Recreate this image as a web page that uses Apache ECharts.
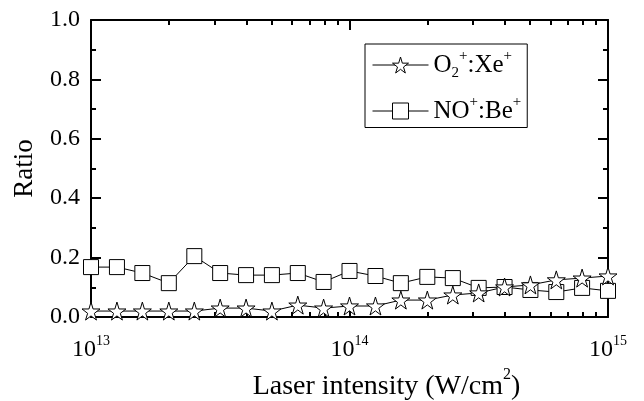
<!DOCTYPE html>
<html>
<head>
<meta charset="utf-8">
<script src="https://cdn.jsdelivr.net/npm/echarts@6/dist/echarts.min.js"></script>
<style>
  html, body { margin: 0; padding: 0; background: #fff; }
  #chart { width: 644px; height: 401px; }
</style>
</head>
<body>
<div id="chart"></div>
<script>
// laser intensity in W/cm^2, ten points per decade
var intensity = [
  1.00e13, 1.26e13, 1.58e13, 2.00e13, 2.51e13, 3.16e13, 3.98e13, 5.01e13, 6.31e13, 7.94e13,
  1.00e14, 1.26e14, 1.58e14, 2.00e14, 2.51e14, 3.16e14, 3.98e14, 5.01e14, 6.31e14, 7.94e14,
  1.00e15
]
var o2Xe = [
  0.020, 0.020, 0.020, 0.020, 0.020, 0.030, 0.030, 0.020, 0.040, 0.030,
  0.037, 0.037, 0.057, 0.057, 0.074, 0.081, 0.101, 0.108, 0.125, 0.131,
  0.138
]
var noBe = [
  0.168, 0.168, 0.148, 0.114, 0.205, 0.148, 0.141, 0.141, 0.148, 0.118,
  0.155, 0.138, 0.114, 0.135, 0.131, 0.098, 0.101, 0.091, 0.084, 0.098,
  0.088
]
var minorX = [
  2e13, 3e13, 4e13, 5e13, 6e13, 7e13, 8e13, 9e13,
  2e14, 3e14, 4e14, 5e14, 6e14, 7e14, 8e14, 9e14
]

var FONT = 'Liberation Serif'
var STAR = 'path://M50,0 L61,35 L98,35 L68,57 L79,91 L50,70 L21,91 L32,57 L2,35 L39,35 Z'

var chart = echarts.init(document.getElementById('chart'))

function xAxisDef (pos, minor) {
  return {
    type: 'log',
    logBase: 10,
    min: 1e13,
    max: 1e15,
    position: pos,
    axisLine: { show: !minor, onZero: false, lineStyle: { color: '#000', width: 2 } },
    axisTick: minor
      ? { show: true, inside: true, length: 5, customValues: minorX, lineStyle: { color: '#000', width: 2 } }
      : { show: true, inside: true, length: 10, lineStyle: { color: '#000', width: 2 } },
    axisLabel: { show: false },
    splitLine: { show: false },
    minorTick: { show: false }
  }
}

function yAxisDef (pos) {
  return {
    type: 'value',
    min: 0,
    max: 1,
    interval: 0.2,
    position: pos,
    axisLine: { show: true, lineStyle: { color: '#000', width: 2 } },
    axisTick: { show: true, inside: true, length: 10, lineStyle: { color: '#000', width: 2 } },
    minorTick: { show: true, splitNumber: 2, length: 5, lineStyle: { color: '#000', width: 2 } },
    axisLabel: { show: false },
    splitLine: { show: false }
  }
}

var xMain = xAxisDef('bottom', false)
xMain.axisLabel = {
  show: true,
  margin: 17,
  formatter: function (v) {
    return '{b|10}{e|' + Math.round(Math.log10(v)) + '}'
  },
  rich: {
    b: { fontFamily: FONT, fontSize: 24, color: '#000', lineHeight: 28, verticalAlign: 'bottom' },
    e: { fontFamily: FONT, fontSize: 14, color: '#000', lineHeight: 28, verticalAlign: 'top' }
  }
}
xMain.name = '{a|Laser intensity (W/cm}{s|2}{a|)}'
xMain.nameLocation = 'middle'
xMain.nameGap = 50
xMain.nameTextStyle = {
  padding: [0, 0, 0, 74],
  rich: {
    a: { fontFamily: FONT, fontSize: 28, color: '#000', lineHeight: 34, verticalAlign: 'bottom' },
    s: { fontFamily: FONT, fontSize: 16, color: '#000', lineHeight: 34, verticalAlign: 'top' }
  }
}

var yMain = yAxisDef('left')
yMain.axisLabel = {
  show: true,
  margin: 11,
  fontFamily: FONT,
  fontSize: 24,
  color: '#000',
  formatter: function (v) { return v.toFixed(1) }
}
yMain.name = 'Ratio'
yMain.nameLocation = 'middle'
yMain.nameGap = 53
yMain.nameTextStyle = { fontFamily: FONT, fontSize: 27, color: '#000' }

var legendNames = {
  'O2+:Xe+': '{t|O}{sub|2}{sup|+}{t|:Xe}{sup|+}',
  'NO+:Be+': '{t|NO}{sup|+}{t|:Be}{sup|+}'
}

chart.setOption({
  animation: false,
  grid: { left: 91, right: 36, top: 20, bottom: 84, outerBoundsMode: 'none' },
  legend: {
    orient: 'vertical',
    left: 365,
    top: 44,
    padding: [5, 6, 4, 7],
    itemGap: 14,
    itemWidth: 56,
    itemHeight: 20,
    borderColor: '#000',
    borderWidth: 1,
    borderRadius: 0,
    itemStyle: { color: '#fff', borderColor: '#000', borderWidth: 1 },
    lineStyle: { color: '#000', width: 1 },
    data: ['O2+:Xe+', 'NO+:Be+'],
    formatter: function (name) { return legendNames[name] },
    textStyle: {
      rich: {
        t: { fontFamily: FONT, fontSize: 25, color: '#000', lineHeight: 32, verticalAlign: 'middle' },
        sup: { fontFamily: FONT, fontSize: 15, color: '#000', lineHeight: 32, verticalAlign: 'top' },
        sub: { fontFamily: FONT, fontSize: 15, color: '#000', lineHeight: 32, verticalAlign: 'bottom' }
      }
    }
  },
  xAxis: [xMain, xAxisDef('bottom', true), xAxisDef('top', false), xAxisDef('top', true)],
  yAxis: [yMain, yAxisDef('right')],
  series: [
    {
      name: 'NO+:Be+',
      type: 'line',
      xAxisIndex: 0,
      yAxisIndex: 0,
      data: intensity.map(function (x, i) { return [x, noBe[i]] }),
      symbol: 'rect',
      symbolSize: 15,
      lineStyle: { color: '#000', width: 1 },
      itemStyle: { color: '#fff', borderColor: '#000', borderWidth: 1 }
    },
    {
      name: 'O2+:Xe+',
      type: 'line',
      xAxisIndex: 0,
      yAxisIndex: 0,
      data: intensity.map(function (x, i) { return [x, o2Xe[i]] }),
      symbol: STAR,
      symbolSize: 18,
      lineStyle: { color: '#000', width: 1 },
      itemStyle: { color: '#fff', borderColor: '#000', borderWidth: 1 }
    }
  ]
})
</script>
</body>
</html>
